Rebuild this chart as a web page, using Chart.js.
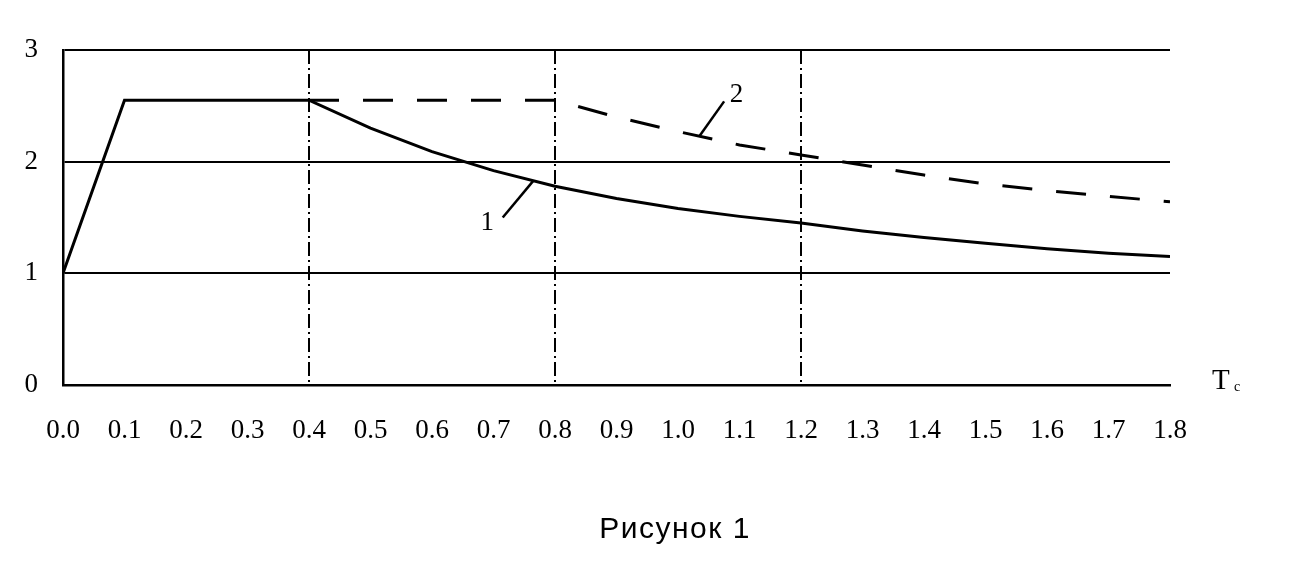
<!DOCTYPE html>
<html>
<head>
<meta charset="utf-8">
<script src="https://cdn.jsdelivr.net/npm/chart.js@4/dist/chart.umd.min.js"></script>
<style>
  html, body { margin: 0; padding: 0; background: #fff; }
  #wrap { position: relative; width: 1300px; height: 567px; }
</style>
</head>
<body>
<div id="wrap"><canvas id="c" width="1300" height="567"></canvas></div>
<script>
// ---- data ----
const periods = [0.0, 0.1, 0.2, 0.3, 0.4, 0.5, 0.6, 0.7, 0.8, 0.9, 1.0, 1.1, 1.2, 1.3, 1.4, 1.5, 1.6, 1.7, 1.8];
const curve1 = [1.0, 2.55, 2.55, 2.55, 2.55, 2.30, 2.09, 1.92, 1.78, 1.67, 1.58, 1.51, 1.45, 1.38, 1.32, 1.27, 1.22, 1.18, 1.15];
const periods2 = [0.4, 0.5, 0.6, 0.7, 0.8, 0.9, 1.0, 1.1, 1.2, 1.3, 1.4, 1.5, 1.6, 1.7, 1.8];
const curve2 = [2.55, 2.55, 2.55, 2.55, 2.55, 2.40, 2.27, 2.15, 2.06, 1.97, 1.88, 1.80, 1.74, 1.69, 1.64];
const yTickValues = [0, 1, 2, 3];
const xTickValues = periods;
const dashDotGridAt = [0.4, 0.8, 1.2];
const curveLabels = ['1', '2'];
const axisTitle = 'T';
const axisUnit = 'с';
const caption = 'Рисунок 1';

const serif = '"Liberation Serif", "DejaVu Serif", serif';
const sans = '"Liberation Sans", Arial, sans-serif';

function near(v, arr) { return arr.some(a => Math.abs(a - v) < 1e-6); }

const overlay = {
  id: 'overlay',
  afterDraw(chart) {
    const ctx = chart.ctx, xs = chart.scales.x, ys = chart.scales.y;
    const px = v => xs.getPixelForValue(v), py = v => ys.getPixelForValue(v);
    ctx.save();
    ctx.strokeStyle = '#000';
    ctx.fillStyle = '#000';
    ctx.lineWidth = 2.5;
    // leader for curve 1
    ctx.beginPath();
    ctx.moveTo(px(0.715), py(1.5));
    ctx.lineTo(px(0.765), py(1.83));
    ctx.stroke();
    // leader for curve 2
    ctx.beginPath();
    ctx.moveTo(px(1.035), py(2.23));
    ctx.lineTo(px(1.075), py(2.54));
    ctx.stroke();
    ctx.font = '27px ' + serif;
    ctx.textAlign = 'center';
    ctx.textBaseline = 'middle';
    ctx.fillText(curveLabels[0], px(0.69), py(1.45));
    ctx.fillText(curveLabels[1], px(1.095), py(2.6));
    // axis title
    ctx.textAlign = 'left';
    ctx.font = '29px ' + serif;
    ctx.fillText(axisTitle, 1212, 381);
    ctx.font = '14px ' + serif;
    ctx.fillText(axisUnit, 1234, 387);
    // caption
    ctx.font = '30px ' + sans;
    ctx.letterSpacing = '1.5px';
    ctx.textAlign = 'center';
    ctx.fillText(caption, 675, 530);
    ctx.restore();
  }
};

new Chart(document.getElementById('c'), {
  type: 'line',
  data: {
    datasets: [
      {
        data: periods.map((t, i) => ({ x: t, y: curve1[i] })),
        borderColor: '#000',
        borderWidth: 3,
        pointRadius: 0,
        tension: 0,
        fill: false
      },
      {
        data: periods2.map((t, i) => ({ x: t, y: curve2[i] })),
        borderColor: '#000',
        borderWidth: 3,
        borderDash: [30, 24],
        pointRadius: 0,
        tension: 0,
        fill: false
      }
    ]
  },
  options: {
    responsive: false,
    animation: false,
    devicePixelRatio: 1,
    layout: { padding: { left: 0, right: 130, top: 50, bottom: 122 } },
    plugins: { legend: { display: false }, tooltip: { enabled: false }, title: { display: false } },
    scales: {
      x: {
        type: 'linear',
        min: 0, max: 1.8,
        afterFit(s) { s.height = 60; },
        afterBuildTicks(s) { s.ticks = xTickValues.map(v => ({ value: v })); },
        ticks: {
          autoSkip: false, maxRotation: 0, minRotation: 0,
          padding: 30,
          color: '#000',
          font: { family: serif, size: 27 },
          callback: v => Number(v).toFixed(1)
        },
        grid: {
          drawTicks: false,
          lineWidth: 2,
          color: ctx => (ctx.tick && near(ctx.tick.value, dashDotGridAt)) ? '#000' : 'rgba(0,0,0,0)'
        },
        border: { display: true, color: '#000', width: 2.5, dash: [14, 4, 2, 4] }
      },
      y: {
        type: 'linear',
        min: 0, max: 3,
        afterFit(s) { s.width = 63; },
        afterBuildTicks(s) { s.ticks = yTickValues.map(v => ({ value: v })); },
        ticks: {
          padding: 25,
          color: '#000',
          font: { family: serif, size: 27 },
          callback: v => String(v)
        },
        grid: {
          drawTicks: false,
          lineWidth: 2,
          color: ctx => (ctx.tick && ctx.tick.value > 0) ? '#000' : 'rgba(0,0,0,0)'
        },
        border: { display: true, color: '#000', width: 2.5 }
      }
    }
  },
  plugins: [overlay]
});
</script>
</body>
</html>
